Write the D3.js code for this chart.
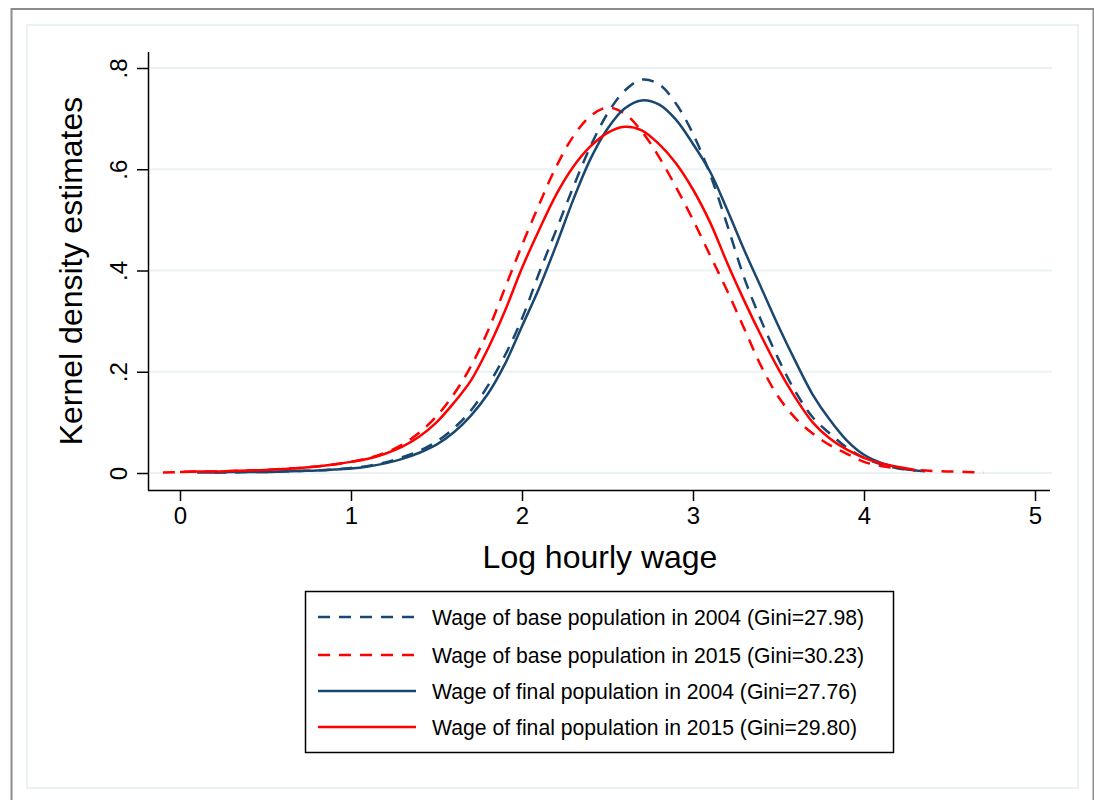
<!DOCTYPE html>
<html>
<head>
<meta charset="utf-8">
<script src="https://cdn.jsdelivr.net/npm/d3@7"></script>
<style>
  body { margin: 0; background: white; }
  svg { display: block; font-family: "Liberation Sans", Arial, sans-serif; }
</style>
</head>
<body>
<svg width="1094" height="800"></svg>
<script>
var w = 1094;
var h = 800;

// log hourly wage grid, -0.1 .. 4.7
var wageGrid = [-0.1, 0.0, 0.1, 0.2, 0.3, 0.4, 0.5, 0.6, 0.7, 0.8, 0.9,
  1.0, 1.1, 1.2, 1.3, 1.4, 1.5, 1.6, 1.7, 1.8, 1.9,
  2.0, 2.1, 2.2, 2.3, 2.4, 2.5, 2.6, 2.7, 2.8, 2.9,
  3.0, 3.1, 3.2, 3.3, 3.4, 3.5, 3.6, 3.7, 3.8, 3.9,
  4.0, 4.1, 4.2, 4.3, 4.4, 4.5, 4.6, 4.7];

var base2004 = [null, null, null, .001, .001, .002, .002, .003, .004, .005, .007,
  .010, .014, .021, .031, .044, .062, .088, .123, .172, .232,
  .305, .395, .48, .565, .645, .71, .755, .777, .768, .73,
  .67, .59, .49, .385, .30, .225, .16, .11, .078, .05,
  .03, .017, .009, .005, .002, null, null, null];

var base2015 = [.001, .002, .003, .003, .004, .005, .006, .008, .010, .013, .017,
  .022, .029, .040, .056, .080, .112, .155, .21, .28, .365,
  .45, .53, .605, .665, .705, .722, .71, .675, .625, .565,
  .50, .43, .36, .285, .21, .15, .108, .078, .055, .038,
  .022, .014, .009, .006, .004, .003, .002, .001];

var final2004 = [null, null, .001, .001, .002, .002, .002, .003, .004, .005, .007,
  .009, .013, .019, .028, .040, .056, .080, .113, .156, .215,
  .29, .365, .45, .54, .62, .68, .72, .736, .728, .698,
  .65, .595, .52, .44, .365, .29, .22, .155, .105, .064,
  .036, .02, .011, .005, null, null, null, null];

var final2015 = [null, .002, .003, .003, .004, .005, .006, .008, .010, .013, .017,
  .022, .028, .038, .052, .072, .100, .138, .182, .245, .32,
  .405, .48, .55, .605, .645, .672, .684, .677, .65, .612,
  .56, .495, .415, .34, .27, .205, .148, .10, .068, .046,
  .03, .019, .012, .006, null, null, null, null];

var xTicks = [0, 1, 2, 3, 4, 5];
var yTicks = [0, .2, .4, .6, .8];
var yTickLabels = ["0", ".2", ".4", ".6", ".8"];

var legendLabels = ["Wage of base population in 2004 (Gini=27.98)",
  "Wage of base population in 2015 (Gini=30.23)",
  "Wage of final population in 2004 (Gini=27.76)",
  "Wage of final population in 2015 (Gini=29.80)"];

var navy = "#1a476f";
var red = "#ff0000";

var series = [
  {vals: base2004, color: navy, dash: "12,9"},
  {vals: base2015, color: red, dash: "12,9"},
  {vals: final2004, color: navy, dash: null},
  {vals: final2015, color: red, dash: null}
];

function draw(){
  var svg = d3.select("svg").attr("width", w).attr("height", h);

  // outer frame + inner panel
  svg.append("rect").attr("x", 11.5).attr("y", 9).attr("width", 1082).attr("height", 800)
    .attr("fill", "white").attr("stroke", "#8c8c8c").attr("stroke-width", 2);
  svg.append("rect").attr("x", 27).attr("y", 25).attr("width", 1051).attr("height", 763)
    .attr("fill", "white").attr("stroke", "#eaf2f3").attr("stroke-width", 2);

  var x = d3.scaleLinear().domain([0, 5]).range([180, 1035]);
  var y = d3.scaleLinear().domain([0, .8]).range([473, 68]);

  // grid
  svg.append("g").selectAll("line")
    .data(yTicks)
    .enter()
    .append("line")
    .attr("x1", 150).attr("x2", 1052)
    .attr("y1", function(d){ return y(d); })
    .attr("y2", function(d){ return y(d); })
    .attr("stroke", "#eaf2f3").attr("stroke-width", 2);

  // axes
  var xAxis = svg.append("g").attr("transform", "translate(0,490)")
    .call(d3.axisBottom(x).tickValues(xTicks).tickSize(11).tickPadding(6).tickFormat(d3.format("d")));
  xAxis.select(".domain").attr("d", "M148,0.5H1050");
  xAxis.selectAll("text").attr("font-size", 24).attr("fill", "black")
    .attr("font-family", "Liberation Sans, Arial, sans-serif");
  xAxis.selectAll("line, path").attr("stroke", "black").attr("stroke-width", 1.5);

  var yAxis = svg.append("g").attr("transform", "translate(148,0)")
    .call(d3.axisLeft(y).tickValues(yTicks).tickSize(11)
      .tickFormat(function(d, i){ return yTickLabels[i]; }));
  yAxis.select(".domain").attr("d", "M0.5,52V490");
  yAxis.selectAll("line, path").attr("stroke", "black").attr("stroke-width", 1.5);
  yAxis.selectAll("text")
    .attr("font-size", 24).attr("fill", "black")
    .attr("font-family", "Liberation Sans, Arial, sans-serif")
    .attr("x", null).attr("dy", null)
    .attr("text-anchor", "middle")
    .attr("transform", "translate(-21,0) rotate(-90)");

  // titles
  svg.append("text").text("Log hourly wage")
    .attr("x", 600).attr("y", 568)
    .attr("text-anchor", "middle").attr("font-size", 32);
  svg.append("text").text("Kernel density estimates")
    .attr("transform", "translate(82,271) rotate(-90)")
    .attr("text-anchor", "middle").attr("font-size", 32);

  // curves
  var line = d3.line()
    .defined(function(d){ return d != null; })
    .x(function(d, i){ return x(wageGrid[i]); })
    .y(function(d){ return y(d); })
    .curve(d3.curveCatmullRom);

  svg.append("g").selectAll("path")
    .data(series)
    .enter()
    .append("path")
    .attr("d", function(s){ return line(s.vals); })
    .attr("fill", "none")
    .attr("stroke", function(s){ return s.color; })
    .attr("stroke-width", 2.5)
    .attr("stroke-dasharray", function(s){ return s.dash; });

  // legend
  var lg = svg.append("g");
  lg.append("rect").attr("x", 305.5).attr("y", 591.5).attr("width", 588).attr("height", 161)
    .attr("fill", "white").attr("stroke", "black").attr("stroke-width", 1.5);
  var rowY = [617, 655, 691, 727];
  var rows = lg.selectAll("g.row")
    .data(series)
    .enter()
    .append("g")
    .attr("class", "row")
    .attr("transform", function(d, i){ return "translate(0," + rowY[i] + ")"; });
  rows.append("line")
    .attr("x1", 318).attr("x2", 416).attr("y1", 0).attr("y2", 0)
    .attr("stroke", function(s){ return s.color; })
    .attr("stroke-width", 2.5)
    .attr("stroke-dasharray", function(s){ return s.dash; });
  rows.append("text")
    .text(function(d, i){ return legendLabels[i]; })
    .attr("x", 432).attr("y", 7.5)
    .attr("font-size", 21.2);
}

draw();
</script>
</body>
</html>
